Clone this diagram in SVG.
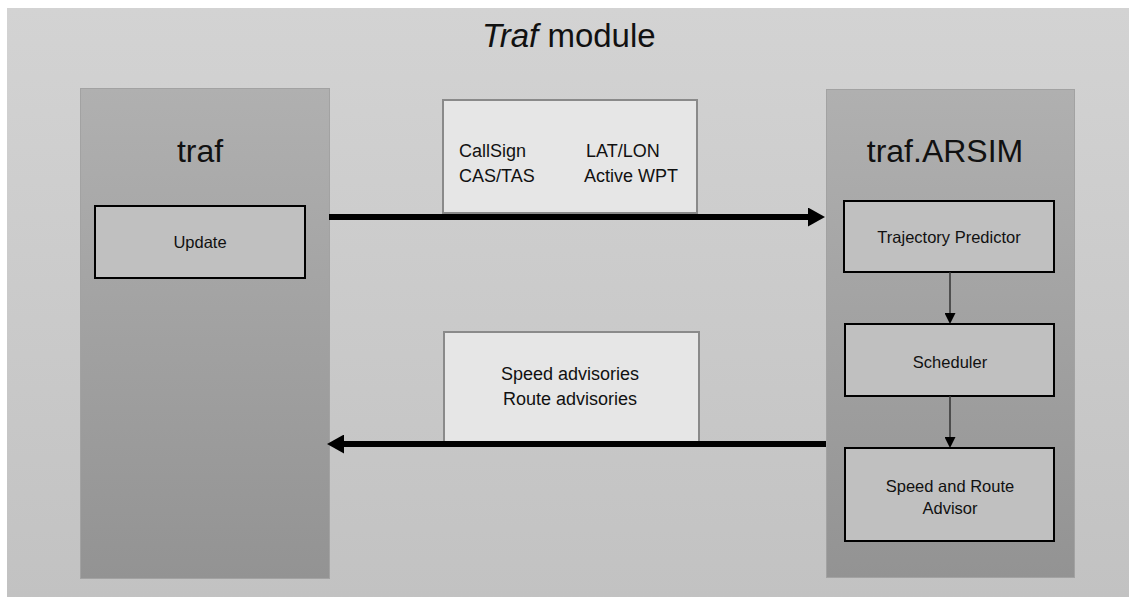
<svg xmlns="http://www.w3.org/2000/svg" width="1129" height="597" viewBox="0 0 1129 597">
  <style>
    text { font-family: "Liberation Sans", Arial, sans-serif; fill: #111; }
    .title { font-size: 33px; }
    .head { font-size: 32px; text-anchor: middle; }
    .lbl { font-size: 16.5px; text-anchor: middle; }
    .data { font-size: 18px; }
    .col { stroke: #a2a2a2; stroke-width: 1; }
    .box { fill: #c0c0c0; stroke: #000; stroke-width: 2; }
    .msg { fill: #e6e6e6; stroke: #8a8a8a; stroke-width: 2; }
    .flow { stroke: #000; stroke-width: 6; fill: none; }
    .step { stroke: #333; stroke-width: 1.5; fill: none; }
  </style>
  <defs>
    <linearGradient id="panelGrad" x1="0" y1="0" x2="0" y2="1">
      <stop offset="0" stop-color="#d3d3d3"/>
      <stop offset="1" stop-color="#c2c2c2"/>
    </linearGradient>
    <linearGradient id="colGrad" x1="0" y1="0" x2="0" y2="1">
      <stop offset="0" stop-color="#b0b0b0"/>
      <stop offset="1" stop-color="#939393"/>
    </linearGradient>
    <marker id="bigHead" viewBox="0 0 17 19" refX="4" refY="9.5" markerWidth="17" markerHeight="19" markerUnits="userSpaceOnUse" orient="auto">
      <path d="M0,0 L17,9.5 L0,19 Z" fill="#000"/>
    </marker>
    <marker id="smallHead" viewBox="0 0 12 11" refX="2" refY="5.5" markerWidth="12" markerHeight="11" markerUnits="userSpaceOnUse" orient="auto">
      <path d="M0,0 L11,5.5 L0,11 Z" fill="#000"/>
    </marker>
  </defs>

  <!-- module panel -->
  <rect x="7" y="8" width="1122" height="589" fill="url(#panelGrad)"/>
  <text class="title" x="482" y="47"><tspan font-style="italic">Traf</tspan> module</text>

  <!-- traf component -->
  <g id="traf">
    <rect class="col" x="80.5" y="88.5" width="249" height="490" fill="url(#colGrad)"/>
    <text class="head" x="200" y="162">traf</text>
  </g>
  <g id="update">
    <rect class="box" x="95" y="206" width="210" height="72"/>
    <text class="lbl" x="200" y="248">Update</text>
  </g>

  <!-- traf.ARSIM component -->
  <g id="arsim">
    <rect class="col" x="826.5" y="89.5" width="248" height="488" fill="url(#colGrad)"/>
    <text class="head" x="945" y="162">traf.ARSIM</text>
  </g>
  <g id="trajectory-predictor">
    <rect class="box" x="844" y="201" width="210" height="71"/>
    <text class="lbl" x="949" y="243">Trajectory Predictor</text>
  </g>
  <g id="scheduler">
    <rect class="box" x="845" y="324" width="209" height="72"/>
    <text class="lbl" x="950" y="368">Scheduler</text>
  </g>
  <g id="advisor">
    <rect class="box" x="845" y="448" width="209" height="93"/>
    <text class="lbl" x="950" y="492">Speed and Route</text>
    <text class="lbl" x="950" y="514">Advisor</text>
  </g>

  <!-- exchanged data -->
  <g id="state-data">
    <rect class="msg" x="443" y="100" width="254" height="113"/>
    <text class="data" x="459" y="157">CallSign</text>
    <text class="data" x="459" y="182">CAS/TAS</text>
    <text class="data" x="586" y="157">LAT/LON</text>
    <text class="data" x="584" y="182">Active WPT</text>
  </g>
  <g id="advisory-data">
    <rect class="msg" x="444" y="332" width="255" height="111"/>
    <text class="data" x="570" y="380" text-anchor="middle">Speed advisories</text>
    <text class="data" x="570" y="405" text-anchor="middle">Route advisories</text>
  </g>

  <!-- connectors -->
  <g id="connectors">
    <line class="flow" x1="329" y1="217" x2="812" y2="217" marker-end="url(#bigHead)"/>
    <line class="flow" x1="826" y1="444" x2="340" y2="444" marker-end="url(#bigHead)"/>
    <line class="step" x1="950" y1="272" x2="950" y2="315" marker-end="url(#smallHead)"/>
    <line class="step" x1="950" y1="396" x2="950" y2="439" marker-end="url(#smallHead)"/>
  </g>
</svg>
